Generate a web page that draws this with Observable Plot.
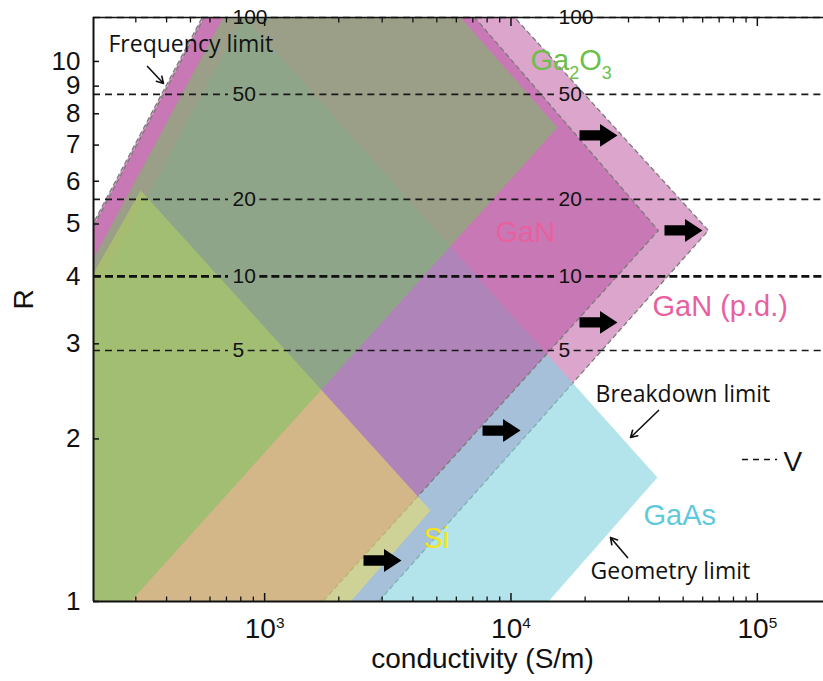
<!DOCTYPE html>
<html>
<head>
<meta charset="utf-8">
<script src="https://cdn.jsdelivr.net/npm/d3@7"></script>
<script src="https://cdn.jsdelivr.net/npm/@observablehq/plot@0.6"></script>
<style>
  html, body { margin: 0; padding: 0; background: #fff; }
  #chart svg { display: block; }
</style>
</head>
<body>
<div id="chart"></div>
<script>
// Operating windows of each material in the conductivity (S/m) – R plane.
// Every window is a polygon of [conductivity, R] vertices; corners that fall
// outside the axes are clipped away by the frame.
const gaNpdRegion = [[1633, 30.44], [63270, 4.864], [754.6, 0.501], [13.93, 0.501]];
const gaAsRegion  = [[822, 12.16], [39300, 1.697], [3750, 0.501], [19.72, 0.501]];
const gaNRegion   = [[1486, 27.63], [39670, 4.864], [436.6, 0.501], [14.19, 0.501]];
const siRegion    = [[314.1, 5.768], [4715, 1.474], [590.2, 0.501], [14.8, 0.501]];
const ga2o3Region = [[1574, 24.64], [15440, 7.547], [73.1, 0.501], [16.0, 0.501]];

// Constant-voltage contours (V) and the R at which each one sits
const voltages = [5, 10, 20, 50, 100];
const voltageR = [2.916, 4.0, 5.553, 8.69, 12.06];
const voltageLabelX = [740.5, 15590];

// Block arrows: GaN -> GaN (p.d.) extension
const shiftArrows = [[22660, 7.293], [50150, 4.864], [22660, 3.286], [9155, 2.073], [3009, 1.191]];

// Material names, colours and label anchors
const materialNames = ["Ga_2O_3", "GaN", "GaN (p.d.)", "Si", "GaAs"];
const materialColors = ["#6cbf4a", "#e8609f", "#e8609f", "#f3e31a", "#5fcadb"];
const materialLabelPos = [[12000, 9.623], [8651, 4.621], [37540, 3.385], [4415, 1.254], [34510, 1.383]];

// Limit annotations and their pointers
const limitNames = ["Frequency limit", "Breakdown limit", "Geometry limit"];
const limitLabelPos = [[232.4, 10.39], [22040, 2.336], [21030, 1.103]];
const limitPointers = [
  [[334.7, 9.788], [388.6, 9.105]],
  [[39700, 2.258], [30570, 2.012]],
  [[29720, 1.206], [25350, 1.314]]
];

// Voltage key
const voltageKey = {x1: 87030, x2: 120760, R: 1.832, labelX: 127760, labelR: 1.748, text: "V"};

// Axes
const xDomain = [202, 185600];
const yDomain = [1, 12.06];
const xMajor = [1e3, 1e4, 1e5];
const xMinor = [300, 400, 500, 600, 700, 800, 900,
                2000, 3000, 4000, 5000, 6000, 7000, 8000, 9000,
                20000, 30000, 40000, 50000, 60000, 70000, 80000, 90000];
const yTicks = [1, 2, 3, 4, 5, 6, 7, 8, 9, 10];

const W = 823, H = 681;
const margin = {left: 93, right: 0, top: 17, bottom: 80};
const pxPerDecade = (W - margin.left - margin.right) / Math.log10(xDomain[1] / xDomain[0]);
const shift = (x, px) => x * Math.pow(10, px / pxPerDecade);

const closed = (pts) => [...pts, pts[0]];
const region = (pts, fill, opacity, dashed) => Plot.line(closed(pts), {
  x: (d) => d[0], y: (d) => d[1], curve: "linear",
  fill, fillOpacity: opacity,
  stroke: dashed ? "#7b7b7b" : "none", strokeWidth: 1.3,
  strokeDasharray: dashed ? "5,3" : null, strokeLinecap: "butt",
  clip: true
});

// dashed voltage contours broken around their numeric labels
const labelFont = 21;
const contourSegments = voltages.flatMap((v, i) => {
  const w = String(v).length * 0.556 * labelFont;
  const [a, b] = voltageLabelX;
  return [[xDomain[0], shift(a, -4)], [shift(a, w + 4), shift(b, -4)], [shift(b, w + 4), xDomain[1]]]
    .map(([x1, x2]) => ({v, R: voltageR[i], x1, x2}));
});
const contourLabels = voltages.flatMap((v, i) => voltageLabelX.map((x) => ({v, R: voltageR[i], x})));

// block-arrow symbol, r is half of the arrow length
const blockArrow = {
  draw(context, size) {
    const L = Math.sqrt(size / Math.PI);
    const s = 0.27 * L, h = 0.6 * L, b = 0.08 * L;
    context.moveTo(-L, -s);
    context.lineTo(b, -s);
    context.lineTo(b, -h);
    context.lineTo(L, 0);
    context.lineTo(b, h);
    context.lineTo(b, s);
    context.lineTo(-L, s);
    context.closePath();
  }
};

const materials = materialNames.map((name, i) => ({name, color: materialColors[i], x: materialLabelPos[i][0], R: materialLabelPos[i][1]}));
const limits = limitNames.map((name, i) => ({name, x: limitLabelPos[i][0], R: limitLabelPos[i][1]}));

const chart = Plot.plot({
  width: W, height: H,
  marginLeft: margin.left, marginRight: margin.right, marginTop: margin.top, marginBottom: margin.bottom,
  style: {fontFamily: "'Liberation Sans', Arial, sans-serif", background: "#fff", overflow: "visible", color: "#111"},
  x: {type: "log", domain: xDomain},
  y: {type: "log", domain: yDomain},
  marks: [
    region(gaNpdRegion, "#b74b99", 0.5, true),
    region(gaAsRegion, "#80d2df", 0.6, false),
    region(gaNRegion, "#b853a0", 0.55, true),
    region(siRegion, "#f2e060", 0.55, false),
    region(ga2o3Region, "#70c65c", 0.5, false),

    // voltage contours
    Plot.ruleY(contourSegments.filter((d) => d.v !== 10), {y: "R", x1: "x1", x2: "x2", stroke: "#1a1a1a", strokeWidth: 1.6, strokeDasharray: "7,5"}),
    Plot.ruleY(contourSegments.filter((d) => d.v === 10), {y: "R", x1: "x1", x2: "x2", stroke: "#111", strokeWidth: 2.6, strokeDasharray: "8,4"}),
    Plot.text(contourLabels, {x: "x", y: "R", text: (d) => String(d.v), textAnchor: "start", lineAnchor: "middle", fontSize: labelFont, fill: "#111"}),

    // frame
    Plot.ruleY([yDomain[1]], {stroke: "#111", strokeWidth: 1.5}),
    Plot.ruleY([yDomain[0]], {stroke: "#111", strokeWidth: 2}),
    Plot.ruleX([xDomain[0]], {stroke: "#111", strokeWidth: 2}),

    // axes
    Plot.axisX({ticks: xMajor, anchor: "bottom", tickSize: 0, tickPadding: 17, fontSize: 28, tickFormat: (d) => "10^" + Math.round(Math.log10(d)), label: null}),
    Plot.axisX({ticks: xMajor, anchor: "bottom", tickSize: -8, fill: "none", strokeWidth: 1.5, label: null}),
    Plot.axisX({ticks: xMinor, anchor: "bottom", tickSize: -4.5, fill: "none", strokeWidth: 1.3, label: null}),
    Plot.axisX({ticks: xMajor, anchor: "top", tickSize: -8, fill: "none", strokeWidth: 1.5, label: null}),
    Plot.axisX({ticks: xMinor, anchor: "top", tickSize: -4.5, fill: "none", strokeWidth: 1.3, label: null}),
    Plot.axisY({ticks: yTicks, anchor: "left", tickSize: 0, tickPadding: 13, fontSize: 26, tickFormat: (d) => String(d), label: null}),
    Plot.axisY({ticks: yTicks, anchor: "left", tickSize: -6, fill: "none", strokeWidth: 1.5, label: null}),
    Plot.text(["R"], {text: (d) => d, frameAnchor: "left", dx: -69, rotate: -90, fontSize: 28, fill: "#111"}),
    Plot.text(["conductivity (S/m)"], {text: (d) => d, frameAnchor: "bottom", dx: 24, dy: 66, lineAnchor: "bottom", fontSize: 28, fill: "#111"}),

    // GaN -> GaN (p.d.) shift
    Plot.dot(shiftArrows, {x: (d) => d[0], y: (d) => d[1], symbol: blockArrow, r: 19, fill: "#000", stroke: "none"}),

    // material names
    Plot.text(materials, {x: "x", y: "R", text: "name", fill: "color", textAnchor: "start", lineAnchor: "bottom", fontSize: 29}),

    // limit annotations
    Plot.text(limits, {x: "x", y: "R", text: "name", textAnchor: "start", lineAnchor: "bottom", fontSize: 23, fontFamily: "'Open Sans', sans-serif", fill: "#111"}),
    Plot.arrow(limitPointers, {x1: (d) => d[0][0], y1: (d) => d[0][1], x2: (d) => d[1][0], y2: (d) => d[1][1], headLength: 7, strokeWidth: 1.6, stroke: "#111"}),

    // voltage key
    Plot.ruleY([voltageKey], {y: "R", x1: "x1", x2: "x2", stroke: "#111", strokeWidth: 1.6, strokeDasharray: "6,5"}),
    Plot.text([voltageKey], {x: "labelX", y: "labelR", text: "text", textAnchor: "start", lineAnchor: "bottom", fontSize: 28, fill: "#111"})
  ]
});

// turn "_x" into subscripts and "^x" into superscripts
d3.select(chart).selectAll("text").each(function () {
  if (this.childElementCount) return;
  const s = this.textContent;
  if (!/[_^]/.test(s)) return;
  const el = d3.select(this);
  el.text(null);
  let reset = null;
  for (const part of s.split(/([_^].)/)) {
    if (!part) continue;
    if (part[0] === "_") {
      el.append("tspan").attr("font-size", "62%").attr("dy", "0.5em").text(part[1]);
      reset = "-0.31em";
    } else if (part[0] === "^") {
      el.append("tspan").attr("font-size", "55%").attr("dy", "-0.68em").text(part[1]);
      reset = "0.374em";
    } else {
      const t = el.append("tspan").text(part);
      if (reset) t.attr("dy", reset);
      reset = null;
    }
  }
});

document.getElementById("chart").appendChild(chart);
</script>
</body>
</html>
